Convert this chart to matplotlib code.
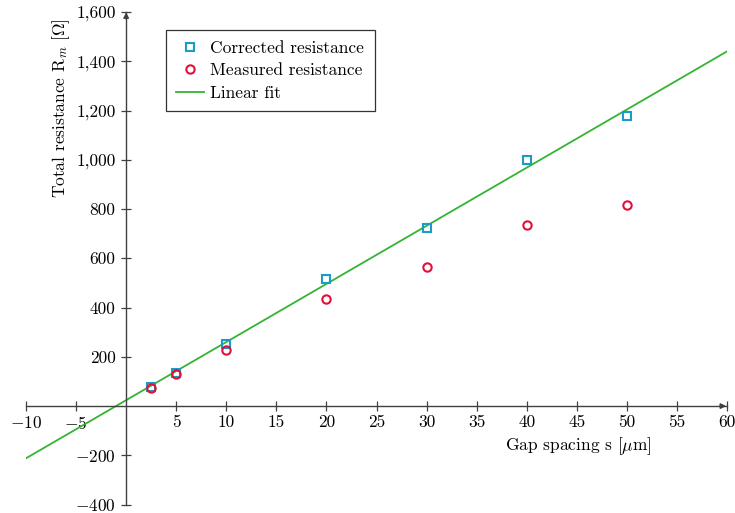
import matplotlib
matplotlib.use("Agg")
import matplotlib.pyplot as plt
from matplotlib.ticker import FuncFormatter, FixedLocator
import numpy as np

plt.rcParams["font.family"] = "serif"
plt.rcParams["font.serif"] = ["cmr10", "DejaVu Serif"]
plt.rcParams["mathtext.fontset"] = "cm"
plt.rcParams["axes.formatter.use_mathtext"] = True
plt.rcParams["font.size"] = 12.5

# Gap spacing in micrometres
gap = [2.5, 5, 10, 20, 30, 40, 50]
corrected = [77, 134, 252, 515, 722, 998, 1177]
measured = [73, 130, 227, 434, 564, 735, 816]

# Linear fit R = slope * s + intercept
fit_slope = 23.6
fit_intercept = 24.0
fit_range = [-10, 60]

x_ticks = [-10, -5, 5, 10, 15, 20, 25, 30, 35, 40, 45, 50, 55, 60]
y_ticks = [-400, -200, 200, 400, 600, 800, 1000, 1200, 1400, 1600]

c_blue = "#1b9bc6"
c_red = "#e0103c"
c_green = "#33b433"
c_axis = "#404040"
fs = 12.5

fig = plt.figure(figsize=(7.35, 5.13), dpi=100)
ax = fig.add_axes([26 / 735, (513 - 504.6) / 513, 701 / 735, 492.6 / 513])
ax.set_xlim(-10, 60)
ax.set_ylim(-400, 1600)

xf = np.array(fit_range, dtype=float)
ax.plot(xf, fit_slope * xf + fit_intercept, color=c_green, lw=1.3,
        label="Linear fit", zorder=2)
ax.plot(gap, corrected, ls="none", marker="s", ms=6, mfc="none", mec=c_blue,
        mew=1.5, label="Corrected resistance", zorder=3)
ax.plot(gap, measured, ls="none", marker="o", ms=6, mfc="none", mec=c_red,
        mew=1.5, label="Measured resistance", zorder=3)

# axis lines through the origin
for s in ["top", "right"]:
    ax.spines[s].set_visible(False)
ax.spines["left"].set_position(("data", 0))
ax.spines["bottom"].set_position(("data", 0))
for s in ["left", "bottom"]:
    ax.spines[s].set_color(c_axis)
    ax.spines[s].set_linewidth(1.0)
ax.annotate("", xy=(60.2, 0), xytext=(59.0, 0),
            arrowprops=dict(arrowstyle="-|>", color=c_axis, lw=1.0,
                            mutation_scale=8), annotation_clip=False)
ax.annotate("", xy=(0, 1610), xytext=(0, 1560),
            arrowprops=dict(arrowstyle="-|>", color=c_axis, lw=1.0,
                            mutation_scale=8), annotation_clip=False)

def fmt_num(v, pos=None):
    v = int(round(v))
    s = f"{abs(v):,}"
    return f"$-${s}" if v < 0 else s

ax.xaxis.set_major_locator(FixedLocator(x_ticks))
ax.yaxis.set_major_locator(FixedLocator(y_ticks))
ax.xaxis.set_major_formatter(FuncFormatter(fmt_num))
ax.yaxis.set_major_formatter(FuncFormatter(fmt_num))
ax.tick_params(direction="inout", length=7, width=0.9, color=c_axis,
               labelsize=fs, labelcolor="black")
ax.tick_params(axis="x", pad=3)
ax.tick_params(axis="y", pad=4)
ax.patch.set_visible(False)

fig.text(578 / 735, 1 - 446 / 513, r"Gap spacing s [$\mu$m]",
         ha="center", va="center", fontsize=fs)
fig.text(61 / 735, 1 - 108 / 513, r"Total resistance R$_m$ [$\Omega$]",
         ha="center", va="center", rotation=90, fontsize=fs)

handles, labels = ax.get_legend_handles_labels()
order = [1, 2, 0]
leg = ax.legend([handles[i] for i in order], [labels[i] for i in order],
                loc="upper left", bbox_to_anchor=(166 / 735, 1 - 30 / 513),
                bbox_transform=fig.transFigure, fancybox=False,
                edgecolor="#333333", framealpha=1, fontsize=fs,
                handlelength=1.6, handletextpad=0.35, borderpad=0.6,
                labelspacing=0.42, borderaxespad=0)
leg.get_frame().set_linewidth(0.9)

fig.savefig("out.png", dpi=100)
